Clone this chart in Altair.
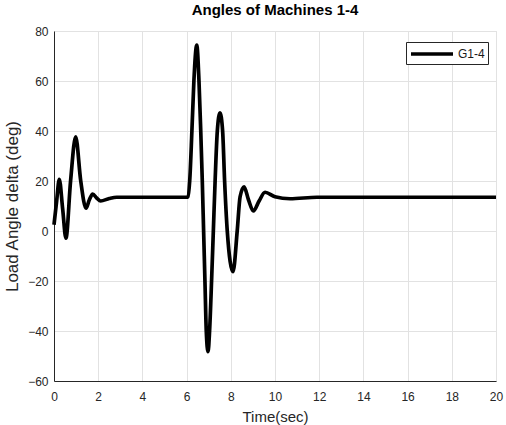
import altair as alt
import pandas as pd

# values
time_s = [0, 0.12, 0.24, 0.39, 0.54, 0.75, 0.98, 1.21, 1.45, 1.6, 1.75, 1.93, 2.11, 2.5, 2.84,
          4.0, 6.0, 6.06, 6.14, 6.24, 6.33, 6.46, 6.56, 6.64, 6.71, 6.77, 6.83, 6.89, 6.97,
          7.04, 7.13, 7.21, 7.29, 7.39, 7.51, 7.63, 7.72, 7.84, 8.1, 8.29, 8.42, 8.6, 8.8,
          9.02, 9.28, 9.55, 10.0, 10.68, 11.9, 20.0]
angle_deg = [2.5, 12, 20.7, 9, -2.9, 20, 37.7, 20, 9.1, 12.5, 14.8, 13.2, 12, 13, 13.5,
             13.5, 13.5, 13.7, 20, 40, 60, 74.4, 60, 40, 20, 0, -20, -40, -48.3,
             -40, -20, 0, 20, 40, 47.3, 40, 20, 0, -16.3, 0, 13.7, 17.7, 12.5,
             8, 12, 15.5, 13.7, 12.9, 13.5, 13.5]
series_name = "G1-4"
x_ticks = [0, 2, 4, 6, 8, 10, 12, 14, 16, 18, 20]
y_ticks = [-60, -40, -20, 0, 20, 40, 60, 80]

df = pd.DataFrame({"t": time_s, "v": angle_deg, "s": series_name})

FONT = "Liberation Sans"

chart = alt.Chart(df).mark_line(strokeWidth=3.7, interpolate="monotone").encode(
    x=alt.X("t:Q", scale=alt.Scale(domain=[0, 20], nice=False, zero=False),
            axis=alt.Axis(values=x_ticks, title="Time(sec)", labelFlush=False,
                          labelOverlap=False, labelPadding=10, titlePadding=7,
                          titleFontSize=15)),
    y=alt.Y("v:Q", scale=alt.Scale(domain=[-60, 80], nice=False, zero=False),
            axis=alt.Axis(values=y_ticks, title="Load Angle delta (deg)", labelFlush=False,
                          labelOverlap=False, labelPadding=6, titlePadding=6,
                          titleFontSize=17)),
    color=alt.Color("s:N", scale=alt.Scale(range=["black"]),
                    legend=alt.Legend(title=None, orient="none", legendX=352, legendY=11,
                                      symbolType="M-3,0H3", symbolSize=196,
                                      symbolOffset=14,
                                      symbolStrokeWidth=3.5, labelFont=FONT,
                                      labelFontSize=12, labelColor="#1a1a1a",
                                      labelOffset=17, padding=3,
                                      strokeColor="#262626", fillColor="white")),
).properties(
    width=442, height=350,
    title=alt.TitleParams("Angles of Machines 1-4", font=FONT, fontSize=15,
                          fontWeight="bold", color="black", anchor="middle", offset=7),
    autosize=alt.AutoSizeParams(type="none"),
    padding={"left": 54, "top": 31, "right": 10, "bottom": 44},
).configure_view(
    stroke="#262626", strokeWidth=1, fill="white"
).configure(
    background="white"
).configure_axis(
    labelFont=FONT, labelFontSize=12, labelColor="#262626",
    titleFont=FONT, titleFontWeight="normal", titleColor="#262626",
    gridColor="#e2e2e2", gridWidth=1, domainColor="#262626", ticks=False,
)

chart.save("out.html", embed_options={"renderer": "svg", "actions": False})
